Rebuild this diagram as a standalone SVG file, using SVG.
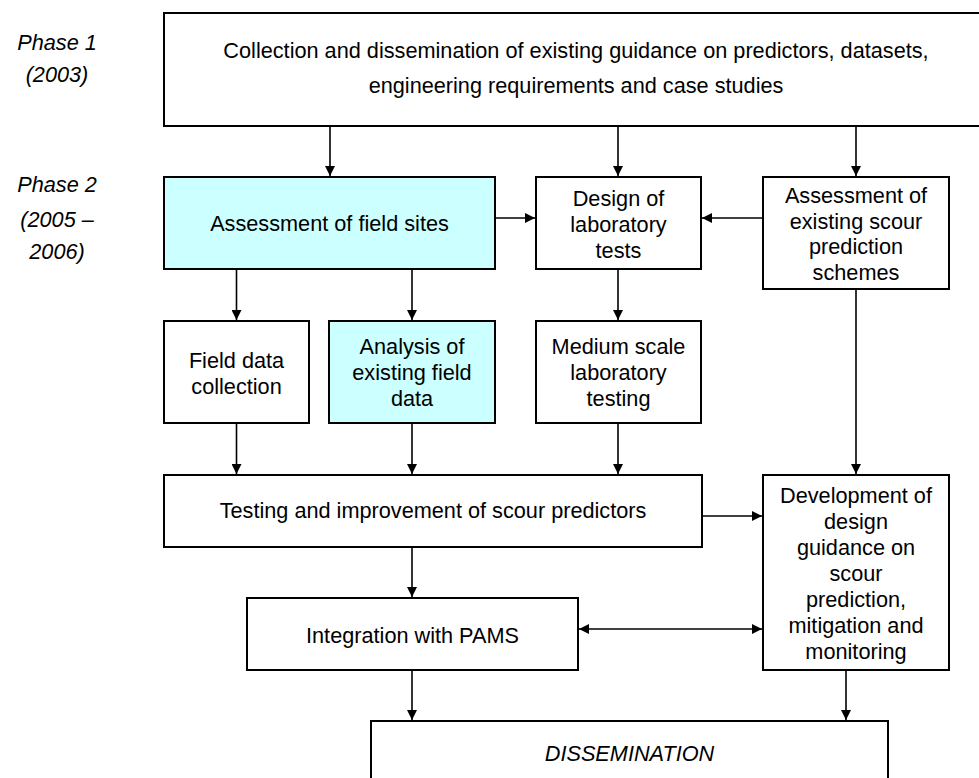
<svg xmlns="http://www.w3.org/2000/svg" width="979" height="778" viewBox="0 0 979 778">
  <style>
    .box { fill: #ffffff; stroke: #000000; stroke-width: 2; }
    .hl { fill: #ccffff; }
    .t { font-family: "Liberation Sans", Arial, sans-serif; font-size: 21.7px; fill: #000000; text-anchor: middle; }
    .it { font-style: italic; }
    .c { stroke: #000000; stroke-width: 1.6; fill: none; marker-end: url(#ah); }
  </style>
  <defs>
    <marker id="ah" markerUnits="userSpaceOnUse" markerWidth="10" markerHeight="10" refX="10" refY="5" orient="auto-start-reverse">
      <path d="M0,0 L10,5 L0,10 z" fill="#000000"/>
    </marker>
  </defs>
  <rect width="979" height="778" fill="#ffffff"/>

  <g id="phase1">
    <text class="t it" x="57" y="50">Phase 1</text>
    <text class="t it" x="57" y="82">(2003)</text>
  </g>
  <g id="phase2">
    <text class="t it" x="57" y="192">Phase 2</text>
    <text class="t it" x="57" y="227">(2005 –</text>
    <text class="t it" x="57" y="259">2006)</text>
  </g>

  <g id="n-collection">
    <rect class="box" x="164" y="13" width="830" height="113"/>
    <text class="t" x="576" y="58">Collection and dissemination of existing guidance on predictors, datasets,</text>
    <text class="t" x="576" y="93">engineering requirements and case studies</text>
  </g>
  <g id="n-fieldsites">
    <rect class="box hl" x="164" y="177" width="331" height="92"/>
    <text class="t" x="329.5" y="231">Assessment of field sites</text>
  </g>
  <g id="n-design">
    <rect class="box" x="536" y="177" width="165" height="92"/>
    <text class="t" x="618.5" y="206">Design of</text>
    <text class="t" x="618.5" y="232">laboratory</text>
    <text class="t" x="618.5" y="258">tests</text>
  </g>
  <g id="n-assessschemes">
    <rect class="box" x="763" y="177" width="186" height="112"/>
    <text class="t" x="856" y="203">Assessment of</text>
    <text class="t" x="856" y="228.5">existing scour</text>
    <text class="t" x="856" y="254">prediction</text>
    <text class="t" x="856" y="280">schemes</text>
  </g>
  <g id="n-fieldcollect">
    <rect class="box" x="164" y="321" width="145" height="102"/>
    <text class="t" x="236.5" y="368">Field data</text>
    <text class="t" x="236.5" y="394">collection</text>
  </g>
  <g id="n-analysis">
    <rect class="box hl" x="329" y="321" width="166" height="102"/>
    <text class="t" x="412" y="354">Analysis of</text>
    <text class="t" x="412" y="380">existing field</text>
    <text class="t" x="412" y="406">data</text>
  </g>
  <g id="n-medium">
    <rect class="box" x="536" y="321" width="165" height="102"/>
    <text class="t" x="618.5" y="354">Medium scale</text>
    <text class="t" x="618.5" y="380">laboratory</text>
    <text class="t" x="618.5" y="406">testing</text>
  </g>
  <g id="n-testing">
    <rect class="box" x="164" y="475" width="538" height="72"/>
    <text class="t" x="433" y="518">Testing and improvement of scour predictors</text>
  </g>
  <g id="n-development">
    <rect class="box" x="763" y="475" width="186" height="195"/>
    <text class="t" x="856" y="503">Development of</text>
    <text class="t" x="856" y="529">design</text>
    <text class="t" x="856" y="555">guidance on</text>
    <text class="t" x="856" y="581">scour</text>
    <text class="t" x="856" y="607">prediction,</text>
    <text class="t" x="856" y="633">mitigation and</text>
    <text class="t" x="856" y="659">monitoring</text>
  </g>
  <g id="n-integration">
    <rect class="box" x="247" y="598" width="331" height="72"/>
    <text class="t" x="412.5" y="643">Integration with PAMS</text>
  </g>
  <g id="n-dissemination">
    <rect class="box" x="371" y="721" width="517" height="70"/>
    <text class="t it" x="629.5" y="761">DISSEMINATION</text>
  </g>

  <g id="connectors">
    <line class="c" x1="330" y1="126" x2="330" y2="176"/>
    <line class="c" x1="618" y1="126" x2="618" y2="176"/>
    <line class="c" x1="856" y1="126" x2="856" y2="176"/>
    <line class="c" x1="495" y1="218" x2="535" y2="218"/>
    <line class="c" x1="763" y1="218" x2="702" y2="218"/>
    <line class="c" x1="236.5" y1="269" x2="236.5" y2="320"/>
    <line class="c" x1="412" y1="269" x2="412" y2="320"/>
    <line class="c" x1="618" y1="269" x2="618" y2="320"/>
    <line class="c" x1="236.5" y1="423" x2="236.5" y2="474"/>
    <line class="c" x1="412" y1="423" x2="412" y2="474"/>
    <line class="c" x1="618" y1="423" x2="618" y2="474"/>
    <line class="c" x1="856" y1="289" x2="856" y2="474"/>
    <line class="c" x1="702" y1="516" x2="762" y2="516"/>
    <line class="c" x1="412" y1="547" x2="412" y2="597"/>
    <line class="c" x1="579" y1="629" x2="762" y2="629" marker-start="url(#ah)"/>
    <line class="c" x1="412" y1="670" x2="412" y2="720"/>
    <line class="c" x1="846" y1="670" x2="846" y2="720"/>
  </g>
</svg>
